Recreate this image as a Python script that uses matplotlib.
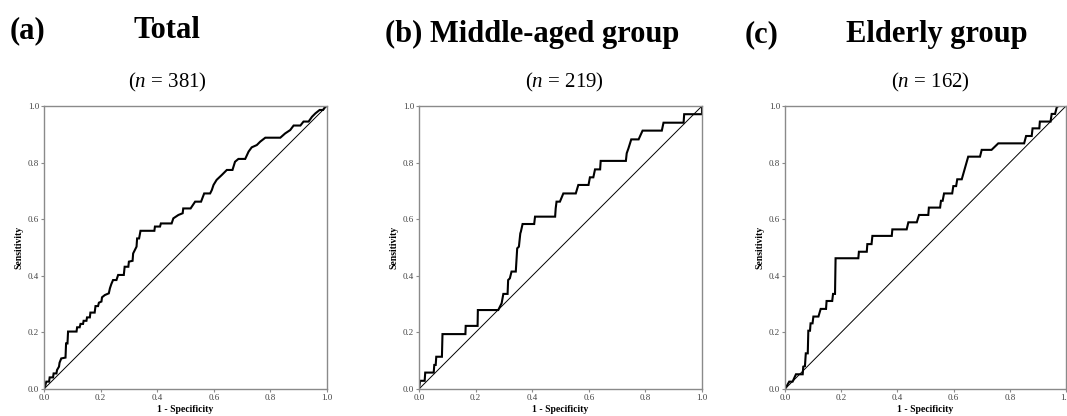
import matplotlib
matplotlib.use("Agg")
import matplotlib.pyplot as plt

plt.rcParams["font.family"] = ["Liberation Serif", "DejaVu Serif"]
plt.rcParams["mathtext.fontset"] = "custom"
plt.rcParams["mathtext.rm"] = "Liberation Serif"
plt.rcParams["mathtext.it"] = "Liberation Serif:italic"

# ROC curve vertices (1 - specificity, sensitivity)
total_fpr = [0.000, 0.005, 0.008, 0.018, 0.020, 0.032, 0.034, 0.044, 0.046, 0.053,
             0.055, 0.061, 0.076, 0.078, 0.083, 0.085, 0.115, 0.117, 0.126, 0.129,
             0.138, 0.140, 0.150, 0.152, 0.162, 0.164, 0.179, 0.182, 0.191, 0.194,
             0.203, 0.205, 0.215, 0.229, 0.233, 0.238, 0.244, 0.256, 0.262, 0.282,
             0.285, 0.298, 0.300, 0.313, 0.315, 0.321, 0.327, 0.329, 0.336, 0.341,
             0.390, 0.392, 0.410, 0.413, 0.451, 0.457, 0.475, 0.490, 0.492, 0.518,
             0.534, 0.555, 0.566, 0.587, 0.593, 0.599, 0.610, 0.628, 0.646, 0.666,
             0.675, 0.687, 0.711, 0.723, 0.734, 0.752, 0.764, 0.782, 0.835, 0.852,
             0.870, 0.882, 0.906, 0.917, 0.935, 0.947, 0.959, 0.974, 0.986, 0.994,
             1.000]
total_tpr = [0.000, 0.014, 0.026, 0.026, 0.041, 0.041, 0.055, 0.055, 0.067, 0.079,
             0.093, 0.108, 0.111, 0.161, 0.161, 0.203, 0.203, 0.218, 0.218, 0.230,
             0.230, 0.241, 0.241, 0.253, 0.253, 0.270, 0.270, 0.293, 0.293, 0.305,
             0.309, 0.324, 0.332, 0.338, 0.356, 0.371, 0.385, 0.385, 0.403, 0.403,
             0.432, 0.432, 0.450, 0.453, 0.479, 0.491, 0.503, 0.532, 0.532, 0.559,
             0.559, 0.574, 0.574, 0.585, 0.585, 0.603, 0.615, 0.621, 0.638, 0.638,
             0.662, 0.662, 0.691, 0.691, 0.703, 0.721, 0.739, 0.756, 0.774, 0.774,
             0.803, 0.813, 0.813, 0.839, 0.854, 0.862, 0.874, 0.888, 0.888, 0.903,
             0.915, 0.931, 0.931, 0.945, 0.945, 0.962, 0.974, 0.986, 0.986, 0.998,
             1.000]

middle_fpr = [0.000, 0.004, 0.020, 0.022, 0.052, 0.054, 0.059, 0.061, 0.081, 0.083,
              0.164, 0.165, 0.207, 0.208, 0.280, 0.292, 0.298, 0.313, 0.315, 0.321,
              0.327, 0.342, 0.347, 0.353, 0.358, 0.360, 0.366, 0.407, 0.410, 0.481,
              0.483, 0.486, 0.498, 0.510, 0.554, 0.563, 0.599, 0.604, 0.616, 0.622,
              0.640, 0.642, 0.731, 0.734, 0.740, 0.750, 0.776, 0.790, 0.858, 0.864,
              0.935, 0.937, 1.000, 1.000]
middle_tpr = [0.000, 0.029, 0.029, 0.058, 0.058, 0.085, 0.085, 0.114, 0.114, 0.194,
              0.194, 0.223, 0.223, 0.279, 0.279, 0.303, 0.336, 0.336, 0.385, 0.391,
              0.415, 0.415, 0.497, 0.503, 0.550, 0.556, 0.583, 0.583, 0.609, 0.609,
              0.638, 0.662, 0.662, 0.691, 0.691, 0.721, 0.721, 0.748, 0.748, 0.776,
              0.776, 0.806, 0.806, 0.833, 0.850, 0.882, 0.882, 0.913, 0.913, 0.941,
              0.941, 0.971, 0.971, 1.000]

elderly_fpr = [0.000, 0.015, 0.027, 0.039, 0.063, 0.065, 0.071, 0.074, 0.081, 0.083,
               0.089, 0.091, 0.098, 0.101, 0.119, 0.127, 0.146, 0.148, 0.168, 0.171,
               0.178, 0.180, 0.261, 0.263, 0.291, 0.293, 0.308, 0.311, 0.380, 0.382,
               0.433, 0.439, 0.469, 0.477, 0.510, 0.512, 0.552, 0.555, 0.561, 0.566,
               0.595, 0.599, 0.609, 0.613, 0.629, 0.652, 0.694, 0.700, 0.735, 0.759,
               0.851, 0.858, 0.878, 0.881, 0.905, 0.907, 0.945, 0.949, 0.961, 0.967,
               0.973, 1.000]
elderly_tpr = [0.000, 0.026, 0.026, 0.052, 0.052, 0.079, 0.081, 0.126, 0.126, 0.206,
               0.206, 0.232, 0.232, 0.256, 0.256, 0.283, 0.283, 0.311, 0.311, 0.336,
               0.336, 0.462, 0.462, 0.485, 0.485, 0.512, 0.512, 0.541, 0.541, 0.564,
               0.564, 0.589, 0.589, 0.615, 0.615, 0.641, 0.641, 0.665, 0.665, 0.691,
               0.691, 0.717, 0.717, 0.741, 0.741, 0.821, 0.821, 0.845, 0.845, 0.868,
               0.868, 0.894, 0.894, 0.921, 0.921, 0.945, 0.945, 0.972, 0.972, 0.995,
               1.000, 1.000]

panel_letters = ["(a)", "(b)", "(c)"]
group_names = ["Total", "Middle-aged group", "Elderly group"]
sample_sizes = [381, 219, 162]
curves = [(total_fpr, total_tpr), (middle_fpr, middle_tpr), (elderly_fpr, elderly_tpr)]
ticks = [0.0, 0.2, 0.4, 0.6, 0.8, 1.0]

W, H = 1067, 416
fig = plt.figure(figsize=(W / 100, H / 100), dpi=100)

# axes boxes in pixels: left, right
boxes = [(44, 327), (419, 702), (785, 1066)]
ax_top, ax_bottom = 106, 389
spine_grey = "#8a8a8a"

for (left, right), (fpr, tpr) in zip(boxes, curves):
    ax = fig.add_axes([left / W, 1 - ax_bottom / H, (right - left) / W, (ax_bottom - ax_top) / H])
    ax.plot([0, 1], [0, 1], color="black", lw=0.7)
    ax.plot(fpr, tpr, color="black", lw=1.5, solid_joinstyle="miter")
    ax.set_xlim(0, 1)
    ax.set_ylim(0, 1)
    ax.set_xticks(ticks)
    ax.set_yticks(ticks)
    ax.set_xticklabels([f"{t:.1f}" for t in ticks])
    ax.set_yticklabels([f"{t:.1f}" for t in ticks])
    for s in ax.spines.values():
        s.set_color(spine_grey)
        s.set_linewidth(1.0)
    ax.tick_params(length=2.5, width=0.8, color=spine_grey, labelsize=6.5,
                   labelcolor="#444444", pad=1)
    ax.set_xlabel("1 - Specificity", fontsize=7, fontweight="bold", labelpad=2)
    ax.set_ylabel("Sensitivity", fontsize=7, fontweight="bold", labelpad=3)

# panel headings
fig.text(10 / W, 1 - 38 / H, panel_letters[0], fontsize=22, fontweight="bold", va="baseline")
fig.text(167 / W, 1 - 38 / H, group_names[0], fontsize=22, fontweight="bold",
         va="baseline", ha="center")
fig.text(385 / W, 1 - 42 / H, panel_letters[1] + " " + group_names[1], fontsize=22,
         fontweight="bold", va="baseline")
fig.text(745 / W, 1 - 42 / H, panel_letters[2], fontsize=22, fontweight="bold", va="baseline")
fig.text(937 / W, 1 - 42 / H, group_names[2], fontsize=22, fontweight="bold",
         va="baseline", ha="center")

for cx, n in zip([167, 564, 930], sample_sizes):
    fig.text(cx / W, 1 - 87 / H, f"($n$ = {n})", fontsize=15, va="baseline", ha="center")

fig.savefig("out.png", dpi=100)
